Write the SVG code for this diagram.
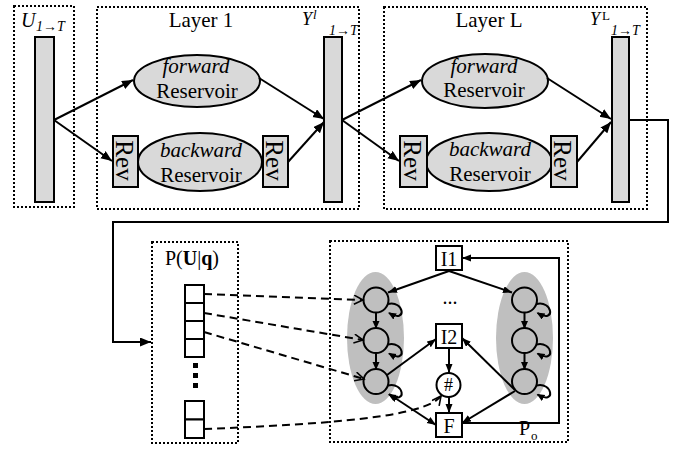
<svg xmlns="http://www.w3.org/2000/svg" width="683" height="450" viewBox="0 0 683 450" font-family="'Liberation Serif', 'Times New Roman', serif">
<style>
.dot{fill:none;stroke:#000;stroke-width:2;stroke-dasharray:2 2}
.bar{fill:#d9d9d9;stroke:#000;stroke-width:2}
.cell{fill:#fff;stroke:#000;stroke-width:2}
.gray{fill:#bfbfbf;stroke:none}
.nd{fill:#bfbfbf;stroke:#000;stroke-width:2}
.ln{fill:none;stroke:#000;stroke-width:2}
.dsh{fill:none;stroke:#000;stroke-width:2;stroke-dasharray:8 5}
.t{font-family:"Liberation Serif","Times New Roman",serif;fill:#000;font-size:21px}
.m{text-anchor:middle}
.i{font-style:italic}
</style>
<defs>
<marker id="ah" markerUnits="userSpaceOnUse" markerWidth="12" markerHeight="10" refX="11" refY="4.5" orient="auto"><path d="M0,0 L11,4.5 L0,9 z" fill="#000"/></marker>
<marker id="as" markerUnits="userSpaceOnUse" markerWidth="10" markerHeight="8" refX="9" refY="3.5" orient="auto-start-reverse"><path d="M0,0 L9,3.5 L0,7 z" fill="#000"/></marker>
<marker id="al" markerUnits="userSpaceOnUse" markerWidth="9" markerHeight="8" refX="7" refY="3.5" orient="auto"><path d="M0,0 L8,3.5 L0,7 z" fill="#000"/></marker>
<marker id="ao" markerUnits="userSpaceOnUse" markerWidth="12" markerHeight="12" refX="10" refY="5" orient="auto"><path d="M1,0.5 L10,5 L1,9.5" fill="none" stroke="#000" stroke-width="1.6"/></marker>
</defs>

<g id="input">
<rect class="dot" x="14" y="6" width="60" height="201"/>
<rect class="bar" x="35" y="37" width="19" height="165"/>
<text class="t i" x="21" y="27" style="font-size:20px">U</text>
<text class="t i" x="36" y="31" style="font-size:14px">1→T</text>
</g>

<g id="layer1">
<rect class="dot" x="97" y="7" width="262" height="202"/>
<text class="t m" x="201" y="27">Layer 1</text>
<g id="fwd1">
<ellipse class="bar" cx="197" cy="81" rx="63" ry="26"/>
<text class="t m i" x="196" y="73">forward</text>
<text class="t m" x="197" y="98">Reservoir</text>
</g>
<g id="bwd1">
<ellipse class="bar" cx="200" cy="162" rx="62" ry="29"/>
<text class="t m i" x="201" y="157">backward</text>
<text class="t m" x="201" y="182">Reservoir</text>
</g>
<g id="rev1a">
<rect class="bar" x="113" y="136" width="25" height="51"/>
<text class="t m" transform="translate(125.5,160.5) rotate(90)" y="10" style="font-size:25px">Rev</text>
</g>
<g id="rev1b">
<rect class="bar" x="263" y="136" width="25" height="51"/>
<text class="t m" transform="translate(275.5,160.5) rotate(90)" y="10" style="font-size:25px">Rev</text>
</g>
</g>

<g id="out1">
<rect class="bar" x="324" y="37" width="18" height="165"/>
<text class="t i" x="302" y="25" style="font-size:18px">Y</text>
<text class="t i" x="313" y="19" style="font-size:13px">l</text>
<text class="t i" x="329" y="35" style="font-size:14px">1→T</text>
</g>

<g id="layerL">
<rect class="dot" x="384" y="7" width="263" height="202"/>
<text class="t m" x="489" y="27">Layer L</text>
<g id="fwdL">
<ellipse class="bar" cx="485" cy="81" rx="63" ry="27"/>
<text class="t m i" x="484" y="73">forward</text>
<text class="t m" x="484" y="97">Reservoir</text>
</g>
<g id="bwdL">
<ellipse class="bar" cx="489" cy="162" rx="63" ry="29"/>
<text class="t m i" x="490" y="156">backward</text>
<text class="t m" x="490" y="181">Reservoir</text>
</g>
<g id="revLa">
<rect class="bar" x="400" y="136" width="27" height="51"/>
<text class="t m" transform="translate(413.5,160.5) rotate(90)" y="10" style="font-size:25px">Rev</text>
</g>
<g id="revLb">
<rect class="bar" x="551" y="136" width="26" height="51"/>
<text class="t m" transform="translate(564,160.5) rotate(90)" y="10" style="font-size:25px">Rev</text>
</g>
</g>

<g id="outL">
<rect class="bar" x="612" y="37" width="17" height="165"/>
<text class="t i" x="590" y="25" style="font-size:18px">Y</text>
<text class="t" x="602" y="20" style="font-size:13px">L</text>
<text class="t i" x="611" y="35" style="font-size:14px">1→T</text>
</g>

<g id="prob">
<rect class="dot" x="152" y="242" width="86" height="201"/>
<text class="t m" x="192" y="265" style="font-size:20px">P(<tspan font-weight="bold">U</tspan>|<tspan font-weight="bold">q</tspan>)</text>
<rect class="cell" x="185" y="285" width="19" height="18"/>
<rect class="cell" x="185" y="303" width="19" height="18"/>
<rect class="cell" x="185" y="321" width="19" height="18"/>
<rect class="cell" x="185" y="339" width="19" height="18"/>
<rect x="193" y="363" width="5" height="5" fill="#000"/>
<rect x="193" y="373" width="5" height="5" fill="#000"/>
<rect x="193" y="383" width="5" height="5" fill="#000"/>
<rect class="cell" x="185" y="401" width="19" height="18.5"/>
<rect class="cell" x="185" y="419.5" width="19" height="18.5"/>
</g>

<g id="hmm">
<rect class="dot" x="330" y="241" width="238" height="201"/>
<ellipse class="gray" cx="375.5" cy="338" rx="28.5" ry="66"/>
<ellipse class="gray" cx="524.5" cy="338" rx="28.5" ry="66"/>
</g>
<g id="L1"><circle class="nd" cx="376" cy="300" r="12.5"/></g>
<g id="L2"><circle class="nd" cx="376" cy="340.5" r="12.5"/></g>
<g id="L3"><circle class="nd" cx="376" cy="381.5" r="12.5"/></g>
<g id="R1"><circle class="nd" cx="524.5" cy="300" r="12.5"/></g>
<g id="R2"><circle class="nd" cx="524.5" cy="340.5" r="12.5"/></g>
<g id="R3"><circle class="nd" cx="524.5" cy="381.5" r="12.5"/></g>
<g id="I1"><rect class="cell" x="436" y="246" width="26" height="24"/><text class="t m" x="449" y="266" style="font-size:20px">I1</text></g>
<g id="I2"><rect class="cell" x="436" y="324" width="26" height="24"/><text class="t m" x="449" y="344" style="font-size:20px">I2</text></g>
<g id="hash"><circle cx="448.5" cy="385" r="12" fill="#fff" stroke="#000" stroke-width="2"/><text class="t m" x="448.5" y="391" style="font-size:18px">#</text></g>
<g id="F"><rect class="cell" x="436" y="413" width="26" height="24"/><text class="t m" x="449" y="433" style="font-size:20px">F</text></g>
<g id="dots"><text class="t m" x="450" y="304" style="font-size:20px">...</text></g>
<g id="Po"><rect x="517" y="414" width="23" height="18" fill="#fff"/><text class="t" x="519" y="435" style="font-size:20px">P</text><text class="t" x="531" y="440" style="font-size:13px">o</text></g>

<g id="connectors">
<path class="ln" d="M54,120 L133,80" marker-end="url(#ah)"/>
<path class="ln" d="M54,120 L112,161" marker-end="url(#ah)"/>
<path class="ln" d="M259,78 L324,119" marker-end="url(#ah)"/>
<path class="ln" d="M288,162 L324,122" marker-end="url(#ah)"/>
<path class="ln" d="M342,120 L421,80" marker-end="url(#ah)"/>
<path class="ln" d="M342,120 L399,161" marker-end="url(#ah)"/>
<path class="ln" d="M547,78 L611,119" marker-end="url(#ah)"/>
<path class="ln" d="M577,162 L611,122" marker-end="url(#ah)"/>
<path class="ln" d="M629,120 H668 V222 H113 V342 H151" marker-end="url(#ah)"/>
<path class="dsh" d="M204,294 L363,300" marker-end="url(#ao)"/>
<path class="dsh" d="M204,313 L363,340" marker-end="url(#ao)"/>
<path class="dsh" d="M204,332 L364,379" marker-end="url(#ao)"/>
<path class="dsh" d="M204,429 C330,424 425,417 441,396" marker-end="url(#ao)"/>
<path class="ln" d="M376,312.5 V328" marker-end="url(#al)"/>
<path class="ln" d="M376,353 V369" marker-end="url(#al)"/>
<path class="ln" d="M524.5,312.5 V328" marker-end="url(#al)"/>
<path class="ln" d="M524.5,353 V369" marker-end="url(#al)"/>
<path class="ln" d="M388,304 C404,300 408,324 389,313" marker-end="url(#al)"/>
<path class="ln" d="M388,344.5 C404,340.5 408,364.5 389,353.5" marker-end="url(#al)"/>
<path class="ln" d="M388,385.5 C404,381.5 408,405.5 389,394.5" marker-end="url(#al)"/>
<path class="ln" d="M536.5,304 C552.5,300 556.5,324 537.5,313" marker-end="url(#al)"/>
<path class="ln" d="M536.5,344.5 C552.5,340.5 556.5,364.5 537.5,353.5" marker-end="url(#al)"/>
<path class="ln" d="M536.5,385.5 C552.5,381.5 556.5,405.5 537.5,394.5" marker-end="url(#al)"/>
<path class="ln" d="M449,271 L388,292.5" marker-end="url(#as)"/>
<path class="ln" d="M449,271 L512,292.5" marker-end="url(#as)"/>
<path class="ln" d="M387,375 L436,339" marker-end="url(#as)"/>
<path class="ln" d="M389,394 L436,425" marker-start="url(#as)" marker-end="url(#as)"/>
<path class="ln" d="M449,348 L449,373" marker-end="url(#as)"/>
<path class="ln" d="M449,397 L449,413" marker-end="url(#as)"/>
<path class="ln" d="M515,390 L462,338" marker-end="url(#as)"/>
<path class="ln" d="M515,391 L462,423" marker-end="url(#as)"/>
<path class="ln" d="M462,423 H559 V258 H462" marker-end="url(#as)"/>
</g>
</svg>
